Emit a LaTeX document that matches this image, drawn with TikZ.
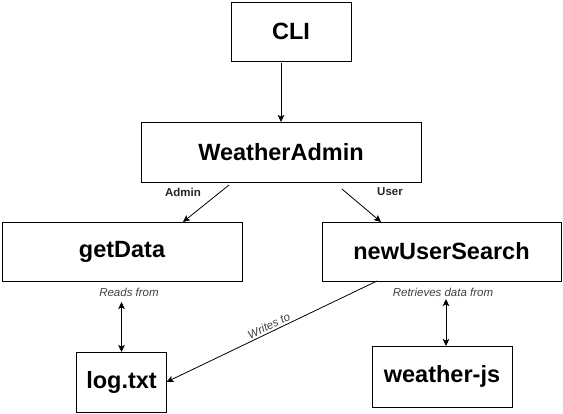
\documentclass[tikz,border=0pt]{standalone}
\usepackage{fontspec}
\setmainfont{Liberation Sans}
\usetikzlibrary{arrows.meta}
\begin{document}
\begin{tikzpicture}[x=1pt,y=-1pt,
  box/.style={draw, line width=1pt, inner sep=0pt, outer sep=0pt, align=center,
    font=\fontsize{23.5}{28}\selectfont\bfseries},
  elabel/.style={font=\fontsize{11.5}{13}\selectfont\bfseries, text=black!85, inner sep=1pt},
  ilabel/.style={font=\fontsize{11.5}{13}\selectfont\itshape, text=black!75, inner sep=1pt},
  tip/.style={},
  conn/.style={line width=0.8pt, -{Stealth[length=7pt,width=6.5pt,inset=1.5pt]}},
  biconn/.style={line width=0.8pt, {Stealth[length=7pt,width=6.5pt,inset=1.5pt]}-{Stealth[length=7pt,width=6.5pt,inset=1.5pt]}}
]
\useasboundingbox (0,0) rectangle (563,413);

\node[box, minimum width=120pt, minimum height=59pt] (cli) at (291,31.5) {CLI};
\node[box, minimum width=280pt, minimum height=60pt] (wa) at (281,152) {WeatherAdmin};
\node[box, minimum width=240pt, minimum height=59pt] (gd) at (122,251.5) {getData};
\node[box, minimum width=239pt, minimum height=59pt] (nus) at (441.5,251.5) {newUserSearch};
\node[box, minimum width=90pt, minimum height=60pt] (log) at (121.5,382) {log.txt};
\node[box, minimum width=140pt, minimum height=61pt] (wjs) at (442,376.5) {weather-js};

% CLI -> WeatherAdmin
\draw[conn] ([yshift=-1.5pt]wa.north |- cli.south) -- (wa.north);

% Admin
\coordinate (a1) at (229,185);
\draw[conn] (a1) -- ([xshift=61pt]gd.north);
\node[elabel] (adminlbl) at (183,192) {Admin};

% User
\coordinate (u1) at (342,189);
\draw[conn] (u1) -- ([xshift=-60.5pt]nus.north);
\node[elabel] (userlbl) at (390,192) {User};

% Reads from
\node[ilabel] (reads) at (129,292) {Reads from};
\coordinate (r1) at (121.5,302);
\draw[biconn] (r1) -- (log.north);

% Retrieves data from
\node[ilabel] (retr) at (443,292) {Retrieves data from};
\coordinate (t1) at (446,299);
\draw[biconn] (t1) -- (t1 |- wjs.north);

% Writes to
\draw[conn] ([xshift=-64.5pt]nus.south) -- (log.east)
  node[ilabel, sloped, above, pos=0.5, inner sep=2pt] (writes) {Writes to};
\end{tikzpicture}
\end{document}
